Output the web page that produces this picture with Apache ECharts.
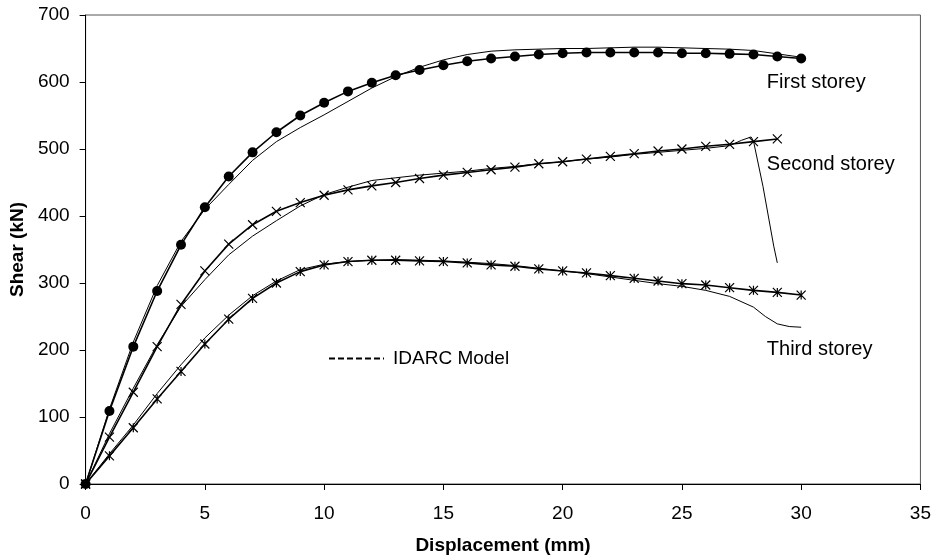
<!DOCTYPE html>
<html>
<head>
<meta charset="utf-8">
<script src="https://cdn.jsdelivr.net/npm/echarts@6/dist/echarts.min.js"></script>
<style>
  html, body { margin: 0; padding: 0; background: #fff; }
  #chart { width: 934px; height: 560px; }
</style>
</head>
<body>
<div id="chart"></div>
<script>
// displacement steps of the test points (mm)
const disp = [0, 1, 2, 3, 4, 5, 6, 7, 8, 9, 10, 11, 12, 13, 14, 15, 16, 17, 18, 19, 20, 21, 22, 23, 24, 25, 26, 27, 28, 29, 30]

// test curves (kN)
const firstTest = [0, 109, 205, 288, 357, 413, 459, 495, 525, 550, 569, 586, 599, 610, 618, 625, 631, 635, 638, 641, 643, 644, 644, 644, 644, 643, 643, 642, 641, 638, 635]
const secondTest = [0, 70, 137, 205, 268, 318, 358, 387, 407, 420, 431, 439, 445, 450, 456, 461, 465, 469, 473, 478, 481, 485, 489, 493, 497, 500, 504, 507, 511, 515]
const thirdTest = [0, 42, 84, 127, 168, 209, 246, 277, 300, 317, 327, 332, 334, 334, 333, 332, 330, 327, 325, 321, 318, 315, 311, 307, 303, 299, 297, 293, 289, 286, 282]

// IDARC model curves
const firstModel = [0, 112, 212, 296, 362, 410, 447, 483, 511, 532, 551, 571, 591, 608, 622, 633, 641, 646, 648, 649, 650, 650, 651, 652, 652, 651, 650, 649, 647, 642, 637]
const secondModelX = [0, 1, 2, 3, 4, 5, 6, 7, 8, 9, 10, 11, 12, 13, 14, 15, 16, 17, 18, 19, 20, 21, 22, 23, 24, 25, 26, 27, 27.5, 27.9, 28, 28.4, 28.85, 29]
const secondModelY = [0, 75, 143, 208, 265, 305, 342, 370, 393, 415, 432, 443, 453, 457, 461, 464, 467, 471, 474, 478, 481, 485, 488, 492, 495, 498, 501, 505, 513, 518, 512, 444, 355, 330]
const thirdModelX = [0, 1, 2, 3, 4, 5, 6, 7, 8, 9, 10, 11, 12, 13, 14, 15, 16, 17, 18, 19, 20, 21, 22, 23, 24, 25, 26, 27, 28, 28.5, 29, 29.5, 30]
const thirdModelY = [0, 45, 88, 135, 178, 218, 252, 281, 303, 320, 328, 332, 334, 335, 334, 333, 331, 329, 326, 322, 318, 314, 309, 304, 299, 295, 289, 280, 264, 250, 239, 235, 234]

// storey labels: [x, y, text]
const storeyLabels = [
  [28.56, 600, 'First storey'],
  [28.56, 477, 'Second storey'],
  [28.56, 201, 'Third storey'],
]

const FONT = "'Liberation Sans', Arial, sans-serif"
const CROSS = 'path://M0,0L10,10M10,0L0,10'
const STAR = 'path://M0,0L10,10M10,0L0,10M5,0L5,10'

const zip = (xs, ys) => ys.map((y, i) => [xs[i], y])

const labelPoint = i => ({
  symbol: 'circle',
  symbolSize: 0,
  silent: true,
  label: {
    show: true, position: 'right', distance: 0,
    formatter: '{b}', color: '#000', fontFamily: FONT, fontSize: 20,
  },
  data: [{ name: storeyLabels[i][2], coord: [storeyLabels[i][0], storeyLabels[i][1]] }],
})

const testSeries = (name, ys, symbol, size, idx) => ({
  name,
  type: 'line',
  data: zip(disp, ys),
  symbol,
  symbolSize: size,
  showAllSymbol: true,
  lineStyle: { color: '#000', width: 1.6 },
  itemStyle: { color: '#000', borderColor: '#000', borderWidth: symbol === 'circle' ? 0 : 1.2 },
  emphasis: { disabled: true },
  markPoint: labelPoint(idx),
  z: 3,
})

const modelSeries = data => ({
  name: 'IDARC Model',
  type: 'line',
  data,
  symbol: 'none',
  lineStyle: { color: '#000', width: 1 },
  emphasis: { disabled: true },
  z: 2,
})

const chart = echarts.init(document.getElementById('chart'))

const axisCommon = {
  type: 'value',
  axisLine: { show: true, lineStyle: { color: '#000', width: 1 } },
  axisTick: { show: true, inside: false, length: 6, lineStyle: { color: '#000' } },
  splitLine: { show: false },
  nameLocation: 'middle',
  nameTextStyle: { color: '#000', fontFamily: FONT, fontSize: 19, fontWeight: 'bold' },
}

chart.setOption({
  animation: false,
  backgroundColor: '#fff',
  grid: {
    left: 85, right: 12, top: 15, bottom: 75,
    show: true, borderColor: '#555', borderWidth: 1, backgroundColor: 'transparent',
  },
  legend: {
    data: ['IDARC Model'],
    left: 323, top: 344,
    itemWidth: 55, itemHeight: 14, itemGap: 10,
    selectedMode: false,
    itemStyle: { color: 'rgba(0,0,0,0)', borderWidth: 0 },
    textStyle: { color: '#000', fontFamily: FONT, fontSize: 19, padding: [0, 0, 0, 4] },
  },
  xAxis: {
    ...axisCommon,
    min: 0, max: 35, interval: 5,
    name: 'Displacement (mm)',
    nameGap: 52,
    axisLabel: { color: '#000', fontFamily: FONT, fontSize: 19, margin: 20 },
  },
  yAxis: {
    ...axisCommon,
    min: 0, max: 700, interval: 100,
    name: 'Shear (kN)',
    nameGap: 56,
    axisLabel: { color: '#000', fontFamily: FONT, fontSize: 19, margin: 16 },
  },
  series: [
    // legend-only entry, drawn dashed
    {
      name: 'IDARC Model', type: 'line', data: [], symbol: 'none',
      itemStyle: { color: 'rgba(0,0,0,0)' },
      lineStyle: { color: '#000', width: 1, type: [6, 3] },
    },
    modelSeries(zip(disp, firstModel)),
    modelSeries(zip(secondModelX, secondModelY)),
    modelSeries(zip(thirdModelX, thirdModelY)),
    testSeries('First storey', firstTest, 'circle', 10, 0),
    testSeries('Second storey', secondTest, CROSS, 9, 1),
    testSeries('Third storey', thirdTest, STAR, 9, 2),
  ],
})
</script>
</body>
</html>
